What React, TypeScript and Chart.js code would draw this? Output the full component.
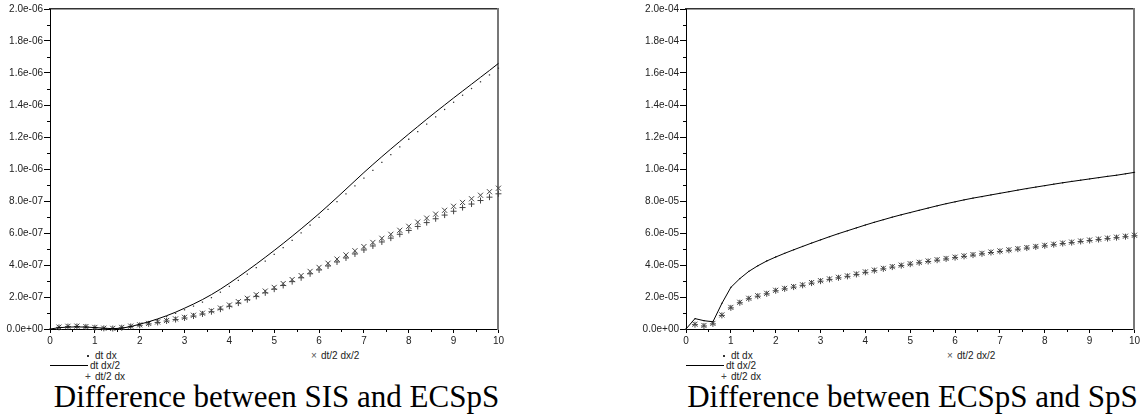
import React, { useEffect, useRef } from 'react';
import { Chart, registerables } from 'chart.js';

Chart.register(...registerables);

// x positions shared by every series
const X_VALUES = [
  0, 0.2, 0.4, 0.6, 0.8, 1, 1.2, 1.4, 1.6, 1.8,
  2, 2.2, 2.4, 2.6, 2.8, 3, 3.2, 3.4, 3.6, 3.8,
  4, 4.2, 4.4, 4.6, 4.8, 5, 5.2, 5.4, 5.6, 5.8,
  6, 6.2, 6.4, 6.6, 6.8, 7, 7.2, 7.4, 7.6, 7.8,
  8, 8.2, 8.4, 8.6, 8.8, 9, 9.2, 9.4, 9.6, 9.8, 10,
];
const X_TICKS = [0, 1, 2, 3, 4, 5, 6, 7, 8, 9, 10];

// Left chart: Difference between SIS and ECSpS  (values in units of 1e-7)
const SIS_UNIT = 1e-7;
const SIS_Y_MAX = 20;
const SIS_DT_DX = [
  0, 0.08, 0.12, 0.12, 0.11, 0.08, 0.04, 0.02, 0.05, 0.14,
  0.28, 0.42, 0.58, 0.77, 0.98, 1.2, 1.43, 1.68, 1.96, 2.3,
  2.66, 3.04, 3.43, 3.83, 4.24, 4.66, 5.09, 5.54, 6.01, 6.49,
  6.98, 7.47, 7.96, 8.45, 8.94, 9.43, 9.92, 10.41, 10.9, 11.38,
  11.86, 12.33, 12.8, 13.26, 13.72, 14.17, 14.61, 15.03, 15.45, 15.88, 16.3,
];
const SIS_DT_DX2 = [
  0, 0.08, 0.12, 0.13, 0.12, 0.09, 0.05, 0.02, 0.05, 0.15,
  0.3, 0.45, 0.63, 0.83, 1.05, 1.3, 1.56, 1.84, 2.15, 2.49,
  2.86, 3.25, 3.65, 4.06, 4.48, 4.91, 5.35, 5.8, 6.26, 6.73,
  7.21, 7.71, 8.22, 8.74, 9.26, 9.78, 10.28, 10.77, 11.25, 11.72,
  12.19, 12.65, 13.11, 13.56, 14.0, 14.44, 14.87, 15.3, 15.73, 16.16, 16.6,
];
const SIS_DT2_DX = [
  null, 0.1, 0.15, 0.16, 0.13, 0.08, 0.04, 0.03, 0.08, 0.16,
  0.23, 0.32, 0.41, 0.5, 0.59, 0.69, 0.81, 0.94, 1.08, 1.24,
  1.42, 1.62, 1.83, 2.04, 2.26, 2.49, 2.72, 2.96, 3.2, 3.45,
  3.69, 3.94, 4.19, 4.44, 4.69, 4.94, 5.19, 5.44, 5.68, 5.92,
  6.16, 6.41, 6.65, 6.89, 7.12, 7.36, 7.59, 7.81, 8.03, 8.24, 8.45,
];
const SIS_DT2_DX2 = [
  null, 0.12, 0.17, 0.18, 0.15, 0.1, 0.05, 0.04, 0.1, 0.18,
  0.26, 0.35, 0.44, 0.53, 0.63, 0.73, 0.86, 0.99, 1.14, 1.31,
  1.5, 1.71, 1.92, 2.14, 2.37, 2.6, 2.84, 3.09, 3.34, 3.6,
  3.85, 4.11, 4.37, 4.63, 4.89, 5.15, 5.41, 5.67, 5.92, 6.17,
  6.42, 6.68, 6.93, 7.18, 7.42, 7.67, 7.91, 8.14, 8.36, 8.58, 8.8,
];

// Right chart: Difference between ECSpS and SpS  (values in units of 1e-5)
const ECS_UNIT = 1e-5;
const ECS_Y_MAX = 20;
const ECS_DT_DX = [
  0, 0.65, 0.52, 0.45, 1.6, 2.6, 3.15, 3.6, 3.95, 4.25,
  4.5, 4.73, 4.95, 5.16, 5.37, 5.57, 5.77, 5.96, 6.14, 6.32,
  6.5, 6.67, 6.83, 6.99, 7.14, 7.28, 7.42, 7.56, 7.7, 7.83,
  7.95, 8.07, 8.18, 8.28, 8.38, 8.48, 8.58, 8.68, 8.78, 8.87,
  8.96, 9.05, 9.14, 9.22, 9.3, 9.38, 9.46, 9.54, 9.61, 9.7, 9.79,
];
const ECS_DT_DX2 = [
  0, 0.65, 0.52, 0.45, 1.6, 2.6, 3.15, 3.6, 3.95, 4.25,
  4.5, 4.73, 4.95, 5.16, 5.37, 5.57, 5.77, 5.96, 6.14, 6.32,
  6.5, 6.67, 6.83, 6.99, 7.14, 7.28, 7.42, 7.56, 7.7, 7.83,
  7.95, 8.07, 8.18, 8.28, 8.38, 8.48, 8.58, 8.68, 8.78, 8.87,
  8.96, 9.05, 9.14, 9.22, 9.3, 9.38, 9.46, 9.54, 9.61, 9.7, 9.79,
];
const ECS_DT2_DX = [
  null, 0.27, 0.19, 0.32, 0.85, 1.32, 1.64, 1.89, 2.05, 2.2,
  2.39, 2.51, 2.62, 2.73, 2.87, 2.99, 3.1, 3.2, 3.29, 3.41,
  3.54, 3.65, 3.76, 3.87, 3.96, 4.05, 4.14, 4.22, 4.3, 4.38,
  4.46, 4.54, 4.62, 4.7, 4.78, 4.85, 4.92, 4.99, 5.06, 5.13,
  5.2, 5.27, 5.34, 5.4, 5.47, 5.53, 5.59, 5.65, 5.71, 5.77, 5.83,
];
const ECS_DT2_DX2 = [
  null, 0.3, 0.22, 0.35, 0.88, 1.35, 1.67, 1.92, 2.08, 2.23,
  2.42, 2.54, 2.65, 2.76, 2.9, 3.02, 3.13, 3.23, 3.32, 3.44,
  3.57, 3.68, 3.79, 3.9, 3.99, 4.08, 4.17, 4.25, 4.33, 4.41,
  4.49, 4.57, 4.65, 4.73, 4.81, 4.88, 4.95, 5.02, 5.09, 5.16,
  5.23, 5.3, 5.37, 5.43, 5.5, 5.56, 5.62, 5.68, 5.74, 5.8, 5.86,
];

const LEGEND_LABELS = ['dt dx', 'dt dx/2', 'dt/2 dx', 'dt/2 dx/2'];
const TITLE_LEFT = 'Difference between SIS and ECSpS';
const TITLE_RIGHT = 'Difference between ECSpS and SpS';

const SANS = '"Liberation Sans", Arial, sans-serif';
const SERIF = '"Liberation Serif", "Times New Roman", serif';

function fmtExp(v: number, unit: number): string {
  const val = v * unit;
  if (Math.abs(val) < 1e-30) return '0.0e+00';
  let exp = Math.floor(Math.log10(Math.abs(val)) + 1e-9);
  let m = (val / Math.pow(10, exp)).toFixed(1);
  if (m === '10.0') {
    exp += 1;
    m = '1.0';
  }
  const sign = exp < 0 ? '-' : '+';
  return `${m}e${sign}${String(Math.abs(exp)).padStart(2, '0')}`;
}

const minorTicks = {
  id: 'minorTicks',
  afterDraw(chart: any) {
    const ctx = chart.ctx;
    const { x, y } = chart.scales;
    const area = chart.chartArea;
    ctx.save();
    ctx.strokeStyle = '#000';
    ctx.lineWidth = 1;
    const yt = y.ticks;
    for (let i = 0; i < yt.length - 1; i++) {
      const mid = (yt[i].value + yt[i + 1].value) / 2;
      const py = Math.round(y.getPixelForValue(mid)) + 0.5;
      ctx.beginPath();
      ctx.moveTo(area.left - 3, py);
      ctx.lineTo(area.left, py);
      ctx.stroke();
    }
    const xt = x.ticks;
    for (let i = 0; i < xt.length - 1; i++) {
      const mid = (xt[i].value + xt[i + 1].value) / 2;
      const px = Math.round(x.getPixelForValue(mid)) + 0.5;
      ctx.beginPath();
      ctx.moveTo(px, area.bottom);
      ctx.lineTo(px, area.bottom + 3);
      ctx.stroke();
    }
    ctx.restore();
  },
};

function toPoints(values: (number | null)[]) {
  return X_VALUES.map((x, i) => ({ x, y: values[i] }));
}

type Props = {
  dtdx: number[];
  dtdx2: number[];
  dt2dx: (number | null)[];
  dt2dx2: (number | null)[];
  unit: number;
  yMax: number;
};

function PlotCanvas({ dtdx, dtdx2, dt2dx, dt2dx2, unit, yMax }: Props) {
  const ref = useRef<HTMLCanvasElement | null>(null);
  useEffect(() => {
    if (!ref.current) return;
    const chart = new Chart(ref.current, {
      type: 'line',
      data: {
        datasets: [
          {
            label: LEGEND_LABELS[1],
            data: toPoints(dtdx2),
            borderColor: '#000',
            borderWidth: 1,
            pointRadius: 0,
            tension: 0,
            fill: false,
          },
          {
            label: LEGEND_LABELS[0],
            data: toPoints(dtdx),
            showLine: false,
            pointStyle: 'rect',
            pointRadius: 0.9,
            backgroundColor: '#333',
            borderColor: '#333',
            borderWidth: 0,
          },
          {
            label: LEGEND_LABELS[2],
            data: toPoints(dt2dx),
            showLine: false,
            pointStyle: 'cross',
            pointRadius: 3,
            borderColor: '#444',
            borderWidth: 1,
          },
          {
            label: LEGEND_LABELS[3],
            data: toPoints(dt2dx2),
            showLine: false,
            pointStyle: 'crossRot',
            pointRadius: 3.6,
            borderColor: '#444',
            borderWidth: 1,
          },
        ] as any,
      },
      options: {
        responsive: false,
        devicePixelRatio: 1,
        animation: false,
        events: [],
        clip: false as any,
        layout: { padding: 0 },
        plugins: {
          legend: { display: false },
          tooltip: { enabled: false },
          title: { display: false },
        },
        scales: {
          x: {
            type: 'linear',
            position: 'bottom',
            min: 0,
            max: 10,
            afterBuildTicks: (scale: any) => {
              scale.ticks = X_TICKS.map((v) => ({ value: v }));
            },
            ticks: {
              color: '#222',
              font: { family: SANS, size: 10 },
              padding: 2,
              maxRotation: 0,
              autoSkip: false,
            },
            grid: {
              drawOnChartArea: false,
              drawTicks: true,
              tickLength: 4,
              tickColor: '#000',
            },
            border: { display: true, color: '#000', width: 1 },
            afterFit: (scale: any) => {
              scale.height = 21;
            },
          },
          x2: {
            type: 'linear',
            position: 'top',
            min: 0,
            max: 10,
            ticks: { display: false },
            grid: { display: false },
            border: { display: true, color: '#333', width: 1.5 },
            afterFit: (scale: any) => {
              scale.height = 9;
            },
          },
          y: {
            type: 'linear',
            position: 'left',
            min: 0,
            max: yMax,
            ticks: {
              stepSize: 2,
              color: '#222',
              font: { family: SANS, size: 10 },
              padding: 1,
              callback: (v: any) => fmtExp(Number(v), unit),
            },
            grid: {
              drawOnChartArea: false,
              drawTicks: true,
              tickLength: 6,
              tickColor: '#000',
            },
            border: { display: true, color: '#000', width: 1 },
            afterFit: (scale: any) => {
              scale.width = 50;
            },
          },
          y2: {
            type: 'linear',
            position: 'right',
            min: 0,
            max: yMax,
            ticks: { display: false },
            grid: { display: false },
            border: { display: true, color: '#777', width: 2 },
            afterFit: (scale: any) => {
              scale.width = 3;
            },
          },
        },
      } as any,
      plugins: [minorTicks],
    });
    return () => chart.destroy();
  }, [dtdx, dtdx2, dt2dx, dt2dx2, unit, yMax]);
  return <canvas ref={ref} width={506} height={350} style={{ display: 'block', width: 506, height: 350 }} />;
}

const textStyle: React.CSSProperties = {
  position: 'absolute',
  fontFamily: SANS,
  fontSize: 10,
  lineHeight: '12px',
  color: '#222',
  whiteSpace: 'nowrap',
};

function Legend({ ox }: { ox: number }) {
  return (
    <>
      <span style={{ position: 'absolute', left: ox + 87, top: 355, width: 1.5, height: 1.5, background: '#333' }} />
      <span style={{ ...textStyle, left: ox + 95, top: 350 }}>{LEGEND_LABELS[0]}</span>
      <span style={{ position: 'absolute', left: ox + 50, top: 365, width: 38, height: 1, background: '#000' }} />
      <span style={{ ...textStyle, left: ox + 90, top: 360 }}>{LEGEND_LABELS[1]}</span>
      <span style={{ ...textStyle, left: ox + 85, top: 371, color: '#444' }}>+</span>
      <span style={{ ...textStyle, left: ox + 95, top: 371 }}>{LEGEND_LABELS[2]}</span>
      <span style={{ ...textStyle, left: ox + 311, top: 350, color: '#555' }}>×</span>
      <span style={{ ...textStyle, left: ox + 321, top: 350 }}>{LEGEND_LABELS[3]}</span>
    </>
  );
}

function Title({ ox, text }: { ox: number; text: string }) {
  return (
    <div
      style={{
        position: 'absolute',
        left: ox + 30,
        width: 493,
        top: 381,
        textAlign: 'center',
        fontFamily: SERIF,
        fontSize: 31,
        lineHeight: '31px',
        color: '#000',
        whiteSpace: 'nowrap',
      }}
    >
      {text}
    </div>
  );
}

export default function App() {
  const RIGHT_OX = 636;
  return (
    <div
      style={{
        position: 'fixed',
        left: 0,
        top: 0,
        width: 1146,
        height: 416,
        background: '#fff',
        overflow: 'hidden',
      }}
    >
      <div style={{ position: 'absolute', left: 0, top: 0 }}>
        <PlotCanvas
          dtdx={SIS_DT_DX}
          dtdx2={SIS_DT_DX2}
          dt2dx={SIS_DT2_DX}
          dt2dx2={SIS_DT2_DX2}
          unit={SIS_UNIT}
          yMax={SIS_Y_MAX}
        />
      </div>
      <div style={{ position: 'absolute', left: RIGHT_OX, top: 0 }}>
        <PlotCanvas
          dtdx={ECS_DT_DX}
          dtdx2={ECS_DT_DX2}
          dt2dx={ECS_DT2_DX}
          dt2dx2={ECS_DT2_DX2}
          unit={ECS_UNIT}
          yMax={ECS_Y_MAX}
        />
      </div>
      <Legend ox={0} />
      <Legend ox={RIGHT_OX} />
      <Title ox={0} text={TITLE_LEFT} />
      <Title ox={RIGHT_OX} text={TITLE_RIGHT} />
    </div>
  );
}
